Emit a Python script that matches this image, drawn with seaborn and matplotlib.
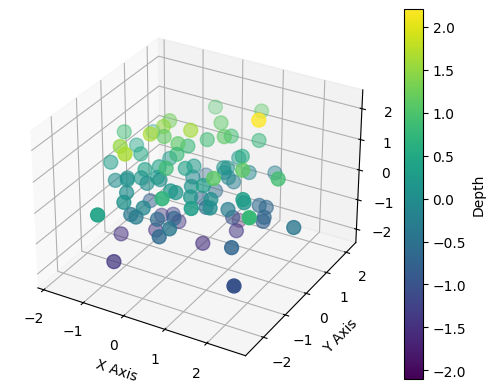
import pandas as pd
import matplotlib
matplotlib.use('Agg')
import matplotlib.pyplot as plt
import seaborn as sns

# values
x_vals = [-0.54, 0.00, -0.98, -1.79, -1.65, -0.85, -0.81, -0.75, -0.19, -0.05, 0.37, -1.57, -1.22, -1.21, -0.85,
          -0.40, -0.30, -0.32, -0.74, -1.72, -0.68, -0.31, -0.88, -1.43, -1.19, -1.18, -0.90, -0.74, -0.58, -0.58,
          -0.16, -0.15, -0.13, -0.32, 0.87, 0.41, 0.43, 0.18, 0.51, 0.27, -0.91, -0.71, -0.04, 0.06, 0.24,
          -0.87, 0.42, 0.10, -0.70, -1.15, -0.62, -0.66, -0.44, -0.37, -0.73, -0.20, -0.59, -0.47, -0.27, 0.02,
          0.35, 0.20, 0.57, 0.77, 0.91, 0.78, 0.51, 1.08, 1.52, 1.51, 1.39, 1.50, 0.90, 0.42, 2.17,
          1.66, 1.66, 1.00, 2.57, 1.66, 2.25, 0.50, 1.38, 0.87, 0.32, 0.51, 0.77, 1.29, 0.83, 1.20,
          1.99, 0.61, 0.45, 0.55]
y_vals = [2.24, 1.50, 0.94, 0.34, 1.36, 0.44, -0.20, 0.29, 0.47, 0.96, 0.96, 0.49, -0.78, 0.06, -1.20,
          0.28, 0.54, 0.09, 0.51, -0.37, -0.06, -0.40, -0.33, -0.67, -0.56, -0.58, -0.46, -0.49, -0.32, -0.20,
          0.17, 0.54, 0.45, 1.40, -0.45, 0.87, 0.87, -0.17, -0.24, 0.76, -1.07, -1.52, -0.69, -0.64, -1.54,
          -0.14, -0.64, 0.43, -2.60, -0.94, -2.13, -1.33, -1.48, -1.29, 0.11, -0.99, -0.40, 0.17, 0.07, -0.66,
          -1.43, -1.61, -0.37, -1.24, -0.67, -0.40, -0.11, -0.18, -0.34, -0.27, 0.68, 0.80, 0.38, 1.61, -1.30,
          0.39, 0.34, 0.37, -0.02, -1.10, -2.10, 2.47, 0.61, 1.64, 1.38, 1.38, 1.05, 0.07, 1.27, 1.79,
          0.36, 0.96, 0.97, 0.83]
z_vals = [1.0, 1.1, 1.15, 0.85, 0.3, 1.3, 1.45, 1.1, 1.4, 0.85, 1.1, 0.4, 1.25, 0.5, 1.4,
          1.0, 0.8, 0.8, 0.25, 0.3, 0.35, 0.65, 0.35, 0.0, 0.1, 0.05, 0.15, 0.05, 0.2, 0.05,
          0.35, 0.2, -0.1, -0.7, 0.8, 0.15, 0.0, 0.1, 0.3, -0.6, 0.05, 0.1, 0.2, 0.15, 0.6,
          -0.8, 0.15, -0.7, 0.4, -1.5, -1.4, -0.4, -0.3, -0.1, -1.4, -0.6, -1.5, -1.3, -1.4, -0.7,
          -0.4, -0.6, -1.5, 0.3, 0.0, 0.05, -0.5, -0.3, 0.3, 0.15, -0.6, -0.7, -1.0, -2.1, 0.6,
          -0.7, -0.8, -1.4, -0.4, -0.7, -1.0, 1.1, 2.2, 0.75, 0.85, 0.2, 0.55, 0.9, -0.1, -0.3,
          0.7, -0.3, 0.1, -0.1]
# colour column, not quite the same as z
depth_vals = [1.0, 1.1, 1.25, 0.85, 0.3, 1.5, 1.65, 1.15, 1.6, 0.85, 1.1, 0.4, 1.5, 0.5, 1.65,
              1.1, 0.8, 0.8, 0.25, 0.3, 0.35, 0.85, 0.35, 0.0, 0.1, 0.05, 0.15, 0.05, 0.2, 0.05,
              0.35, 0.2, -0.1, -0.7, 1.1, 0.15, 0.0, 0.1, 0.3, -0.6, 0.05, 0.1, 0.2, 0.15, 0.7,
              -0.8, 0.15, -0.7, 0.4, -1.5, -1.4, -0.4, -0.3, -0.1, -1.4, -0.6, -1.5, -1.3, -1.4, -0.7,
              -0.4, -0.6, -1.5, 0.3, 0.0, 0.05, -0.5, -0.3, 0.3, 0.15, -0.6, -0.7, -1.0, -2.1, 0.8,
              -0.7, -0.8, -1.4, -0.4, -0.7, -1.0, 1.1, 2.2, 0.75, 0.85, 0.2, 0.55, 1.1, -0.1, -0.3,
              0.9, -0.3, 0.1, -0.1]

df = pd.DataFrame({'x': x_vals, 'y': y_vals, 'z': z_vals, 'depth': depth_vals})

fig = plt.figure()
ax = fig.add_subplot(projection='3d')

cmap = sns.color_palette('viridis', as_cmap=True)
points = ax.scatter(df['x'], df['y'], df['z'], c=df['depth'], cmap=cmap, s=100)

ax.set_xlim(-2.15, 2.9)
ax.set_ylim(-2.8, 2.5)
ax.set_zlim(-2.46, 2.6)
ax.set_xlabel('X Axis')
ax.set_ylabel('Y Axis')
fig.colorbar(points, label='Depth')

plt.savefig('out.png', dpi=100, bbox_inches='tight')
